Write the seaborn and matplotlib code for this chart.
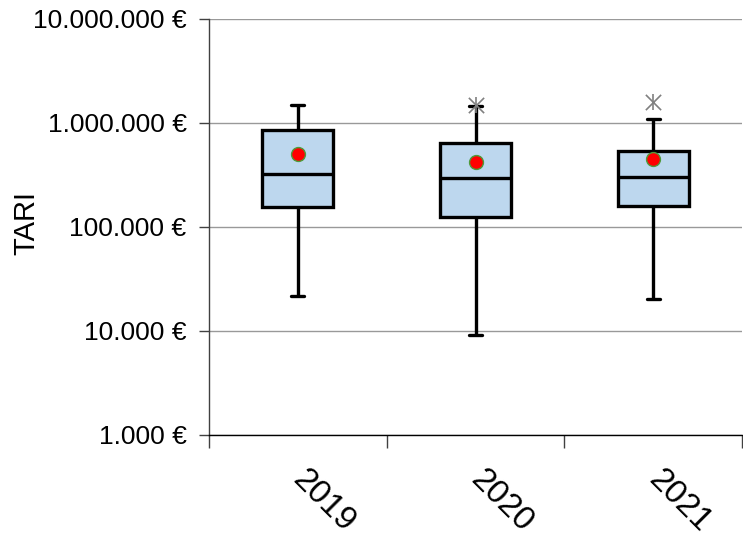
import numpy as np
import pandas as pd
import matplotlib
matplotlib.use("Agg")
import matplotlib.pyplot as plt
import matplotlib.ticker as mticker
import seaborn as sns

years = ['2019', '2020', '2021']
whisker_low = [21700, 9100, 20400]
q1 = [156000, 125000, 159000]
median = [324000, 296000, 303000]
q3 = [858000, 644000, 538000]
whisker_high = [1490000, 1450000, 1090000]
means = [500000, 422000, 450000]
outlier_year = ['2020', '2021']
outlier_value = [1500000, 1600000]
y_ticks = [1000, 10000, 100000, 1000000, 10000000]

sns.set_style("white")
plt.rcParams['font.family'] = ['Liberation Sans', 'DejaVu Sans']
plt.rcParams['text.color'] = 'black'
plt.rcParams['axes.labelcolor'] = 'black'
plt.rcParams['xtick.color'] = 'black'
plt.rcParams['ytick.color'] = 'black'

# five-number summary per year -> long table for seaborn
rows = []
for i, yr in enumerate(years):
    for v in (whisker_low[i], q1[i], median[i], q3[i], whisker_high[i]):
        rows.append({'Year': yr, 'TARI': v})
df = pd.DataFrame(rows)

fig = plt.figure(figsize=(7.43, 5.39), dpi=100)
ax = fig.add_axes([0.281, 0.193, 0.718, 0.772])
ax.set_yscale('log')

sns.boxplot(data=df, x='Year', y='TARI', order=years, whis=(0, 100), width=0.4,
            color='#BDD7EE', saturation=1, linecolor='black', linewidth=2.4,
            fliersize=0, capwidths=0.07, ax=ax)
sns.stripplot(x=years, y=means, order=years, jitter=False, color='#FF0000',
              edgecolor='#4E9A3A', linewidth=1, size=10, zorder=5, ax=ax)
for mk in ('x', '|'):
    sns.stripplot(x=outlier_year, y=outlier_value, order=years, jitter=False,
                  marker=mk, color='#808080', linewidth=1.2, size=11, zorder=5, ax=ax)

ax.set_xlim(-0.5, 2.5)
ax.set_ylim(1000, 10000000)
ax.yaxis.set_major_locator(mticker.FixedLocator(y_ticks))
ax.yaxis.set_minor_locator(mticker.NullLocator())
ax.yaxis.set_major_formatter(mticker.FuncFormatter(
    lambda v, p: f"{int(round(v)):,}".replace(",", ".") + " €"))
ax.yaxis.grid(True, color='#999999', linewidth=1)
ax.set_axisbelow(True)

ax.set_xlabel('')
ax.set_ylabel('')
fig.text(26 / 743, 1 - 223 / 539, 'TARI', rotation=90, fontsize=21,
         ha='center', va='center')
ax.tick_params(axis='y', labelsize=19, length=7, width=1, color='#404040',
               labelcolor='black', direction='out', left=True, pad=9)
ax.set_xticks(range(len(years)))
ax.set_xticklabels(years, rotation=-45, ha='left', va='center', rotation_mode='anchor', fontsize=24)
ax.tick_params(axis='x', which='major', length=0, pad=29, labelcolor='black')
ax.xaxis.set_minor_locator(mticker.FixedLocator([-0.5, 0.5, 1.5, 2.5]))
ax.tick_params(axis='x', which='minor', length=9, width=1, color='#404040', direction='out', bottom=True)

for s in ('top', 'right'):
    ax.spines[s].set_visible(False)
ax.spines['left'].set_color('#404040')
ax.spines['bottom'].set_color('#000000')
for s in ('left', 'bottom'):
    ax.spines[s].set_linewidth(1)

fig.savefig('out.png', dpi=100)
